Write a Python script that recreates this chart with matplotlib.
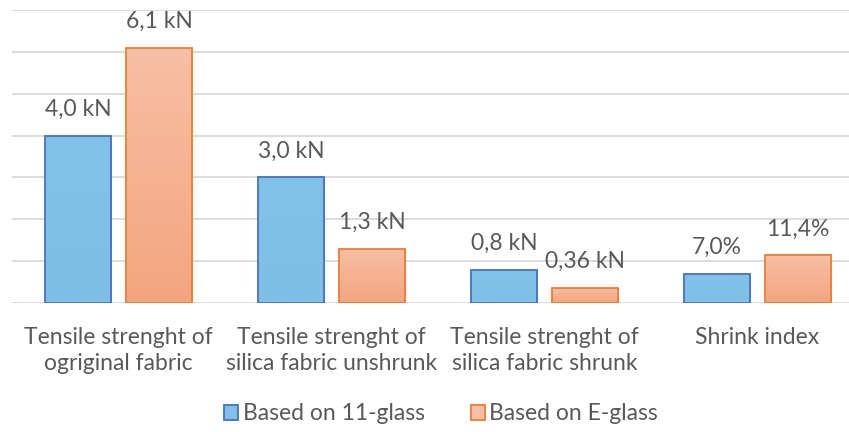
import numpy as np
import matplotlib.pyplot as plt
from matplotlib.colors import to_rgb
from matplotlib.patches import Patch

categories = [
    "Tensile strenght of\nogriginal fabric",
    "Tensile strenght of\nsilica fabric unshrunk",
    "Tensile strenght of\nsilica fabric shrunk",
    "Shrink index",
]
series_names = ["Based on 11-glass", "Based on E-glass"]

# first three groups in kN, the last one in percent
glass11 = [4.0, 3.0, 0.8, 7.0]
eglass = [6.1, 1.3, 0.36, 11.4]
glass11_labels = ["4,0 kN", "3,0 kN", "0,8 kN", "7,0%"]
eglass_labels = ["6,1 kN", "1,3 kN", "0,36 kN", "11,4%"]
# shrink index shares the axis at one tenth of its percent value
scale = [1, 1, 1, 0.1]

plt.rcParams['font.family'] = ['Lato', 'DejaVu Sans']
TEXT = '#595959'
FS = 16.5

fig = plt.figure(figsize=(8.49, 4.32), dpi=100)
# plot area runs a little past the right edge of the figure
ax = fig.add_axes([12 / 849, 129 / 432, 852 / 849, 293 / 432])

x = np.arange(len(categories))
width = 0.31
offset = 0.191


def gradient_bar(ax, xc, h, top, bottom, edge):
    bar = ax.bar(xc, h, width, color='none', edgecolor=edge, linewidth=1.3, zorder=3)[0]
    grad = np.linspace(0, 1, 100).reshape(-1, 1)
    c0 = np.array(to_rgb(top))
    c1 = np.array(to_rgb(bottom))
    img = c0 + (c1 - c0) * grad[..., None]
    im = ax.imshow(img, extent=[xc - width / 2, xc + width / 2, 0, h],
                   aspect='auto', zorder=2, origin='upper')
    im.set_clip_path(bar)
    return bar


for i in range(len(categories)):
    h1 = glass11[i] * scale[i]
    h2 = eglass[i] * scale[i]
    gradient_bar(ax, x[i] - offset, h1, '#82c2e8', '#7fbfe5', '#4472c4')
    gradient_bar(ax, x[i] + offset, h2, '#f7bfa4', '#f4a57f', '#ed7d31')
    ax.annotate(glass11_labels[i], (x[i] - offset, h1), xytext=(0, 19),
                textcoords='offset points', ha='center', va='center',
                fontsize=FS, color=TEXT)
    ax.annotate(eglass_labels[i], (x[i] + offset, h2), xytext=(0, 19),
                textcoords='offset points', ha='center', va='center',
                fontsize=FS, color=TEXT)

ax.set_xlim(-0.5, len(categories) - 0.5)
ax.set_ylim(0, 7)
ax.set_yticks(np.arange(0, 8))
ax.yaxis.grid(True, color='#d9d9d9', linewidth=1.3, zorder=0)
ax.set_axisbelow(True)
ax.tick_params(axis='y', left=False, labelleft=False)
ax.tick_params(axis='x', bottom=False, pad=14)
ax.set_xticks(x)
ax.set_xticklabels(categories, fontsize=FS, color=TEXT, linespacing=1.25)
for s in ax.spines.values():
    s.set_visible(False)

handles = [
    Patch(facecolor='#80c1e7', edgecolor='#4472c4', linewidth=1.3),
    Patch(facecolor='#f7bfa4', edgecolor='#ed7d31', linewidth=1.3),
]
leg = fig.legend(handles, series_names, loc='center', bbox_to_anchor=(441 / 849, 1 - 414 / 432),
                 ncol=2, frameon=False, fontsize=FS, handlelength=0.62, handleheight=0.62,
                 handletextpad=0.2, columnspacing=2.0)
for t in leg.get_texts():
    t.set_color(TEXT)

fig.savefig('out.png', dpi=100)
